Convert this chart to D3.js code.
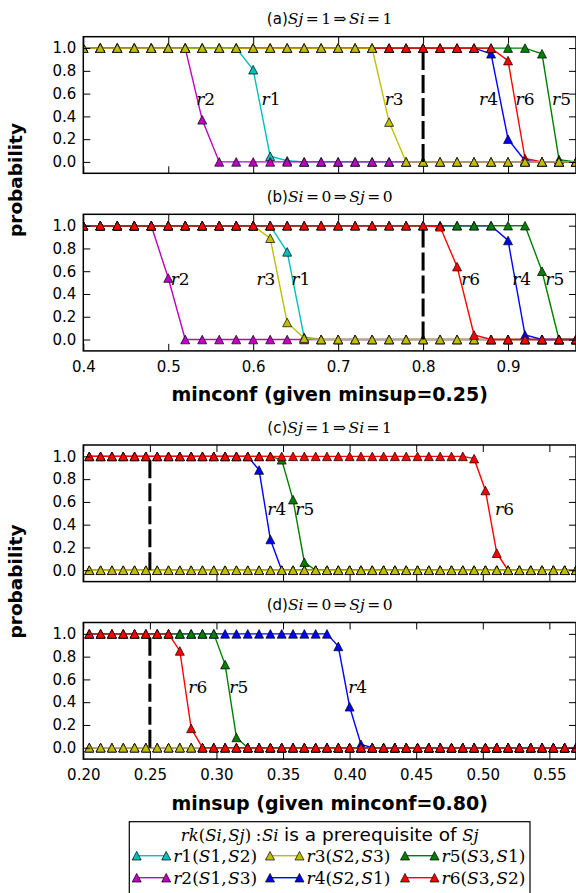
<!DOCTYPE html>
<html lang="en">
<head>
<meta charset="utf-8">
<title>Rule probability vs minconf / minsup</title>
<script src="https://d3js.org/d3.v7.min.js"></script>
<style>
  body { margin: 0; background: #fff; }
  .tick text { font-family: "DejaVu Sans", sans-serif; font-size: 15px; fill: #000; }
  .tick line { stroke: #000; stroke-width: 1; }
  .axis-label { font-family: "DejaVu Sans", sans-serif; font-size: 19px; font-weight: bold; }
</style>
</head>
<body>
<div id="vis"></div>
<script>
const width = 576, height = 893;

// ---- data ----
const confX = [0.40,0.42,0.44,0.46,0.48,0.50,0.52,0.54,0.56,0.58,0.60,0.62,0.64,0.66,0.68,
               0.70,0.72,0.74,0.76,0.78,0.80,0.82,0.84,0.86,0.88,0.90,0.92,0.94,0.96,0.98];
const supX = [0.2045,0.2130,0.2215,0.2300,0.2385,0.2470,0.2555,0.2640,0.2725,0.2810,0.2895,
              0.2980,0.3065,0.3150,0.3235,0.3320,0.3405,0.3490,0.3575,0.3660,0.3745,0.3830,
              0.3915,0.4000,0.4085,0.4170,0.4255,0.4340,0.4425,0.4510,0.4595,0.4680,0.4765,
              0.4850,0.4935,0.5020,0.5105,0.5190,0.5275,0.5360,0.5445,0.5530,0.5615,0.5700];

const confTicks = [0.4,0.5,0.6,0.7,0.8,0.9];
const supTicks = [0.20,0.25,0.30,0.35,0.40,0.45,0.50,0.55];
const probTicks = [0.0,0.2,0.4,0.6,0.8,1.0];

const ruleNames = ["r1","r2","r3","r4","r5","r6"];
const ruleLegend = ["r1(S1,S2)","r2(S1,S3)","r3(S2,S3)","r4(S2,S1)","r5(S3,S1)","r6(S3,S2)"];
const ruleColors = ["#00bfbf","#bf00bf","#bfbf00","#0000ff","#008000","#ff0000"];

// (a) Sj=1 => Si=1, vs minconf
const aR1 = [1,1,1,1,1,1,1,1,1,1,0.81,0.05,0.01,0,0,0,0,0,0,0,0,0,0,0,0,0,0,0,0,0];
const aR2 = [1,1,1,1,1,1,1,0.37,0,0,0,0,0,0,0,0,0,0,0,0,0,0,0,0,0,0,0,0,0,0];
const aR3 = [1,1,1,1,1,1,1,1,1,1,1,1,1,1,1,1,1,1,0.35,0,0,0,0,0,0,0,0,0,0,0];
const aR4 = [1,1,1,1,1,1,1,1,1,1,1,1,1,1,1,1,1,1,1,1,1,1,1,1,0.95,0.20,0.01,0,0,0];
const aR5 = [1,1,1,1,1,1,1,1,1,1,1,1,1,1,1,1,1,1,1,1,1,1,1,1,1,1,1,0.95,0.02,0];
const aR6 = [1,1,1,1,1,1,1,1,1,1,1,1,1,1,1,1,1,1,1,1,1,1,1,1,1,0.89,0.03,0,0,0];

// (b) Si=0 => Sj=0, vs minconf
const bR1 = [1,1,1,1,1,1,1,1,1,1,1,1,0.77,0.02,0,0,0,0,0,0,0,0,0,0,0,0,0,0,0,0];
const bR2 = [1,1,1,1,1,0.54,0,0,0,0,0,0,0,0,0,0,0,0,0,0,0,0,0,0,0,0,0,0,0,0];
const bR3 = [1,1,1,1,1,1,1,1,1,1,1,0.89,0.15,0.01,0,0,0,0,0,0,0,0,0,0,0,0,0,0,0,0];
const bR4 = [1,1,1,1,1,1,1,1,1,1,1,1,1,1,1,1,1,1,1,1,1,1,1,1,1,0.87,0.04,0,0,0];
const bR5 = [1,1,1,1,1,1,1,1,1,1,1,1,1,1,1,1,1,1,1,1,1,1,1,1,1,1,1,0.60,0,0];
const bR6 = [1,1,1,1,1,1,1,1,1,1,1,1,1,1,1,1,1,1,1,1,1,0.99,0.64,0.04,0,0,0,0,0,0];

// (c) Sj=1 => Si=1, vs minsup
const cR1 = [0,0,0,0,0,0,0,0,0,0,0,0,0,0,0,0,0,0,0,0,0,0,0,0,0,0,0,0,0,0,0,0,0,0,0,0,0,0,0,0,0,0,0,0];
const cR2 = [0,0,0,0,0,0,0,0,0,0,0,0,0,0,0,0,0,0,0,0,0,0,0,0,0,0,0,0,0,0,0,0,0,0,0,0,0,0,0,0,0,0,0,0];
const cR3 = [0,0,0,0,0,0,0,0,0,0,0,0,0,0,0,0,0,0,0,0,0,0,0,0,0,0,0,0,0,0,0,0,0,0,0,0,0,0,0,0,0,0,0,0];
const cR4 = [1,1,1,1,1,1,1,1,1,1,1,1,1,1,1,0.88,0.27,0,0,0,0,0,0,0,0,0,0,0,0,0,0,0,0,0,0,0,0,0,0,0,0,0,0,0];
const cR5 = [1,1,1,1,1,1,1,1,1,1,1,1,1,1,1,1,1,0.97,0.62,0.07,0,0,0,0,0,0,0,0,0,0,0,0,0,0,0,0,0,0,0,0,0,0,0,0];
const cR6 = [1,1,1,1,1,1,1,1,1,1,1,1,1,1,1,1,1,1,1,1,1,1,1,1,1,1,1,1,1,1,1,1,1,1,0.98,0.70,0.15,0,0,0,0,0,0,0];

// (d) Si=0 => Sj=0, vs minsup
const dR1 = [0,0,0,0,0,0,0,0,0,0,0,0,0,0,0,0,0,0,0,0,0,0,0,0,0,0,0,0,0,0,0,0,0,0,0,0,0,0,0,0,0,0,0,0];
const dR2 = [0,0,0,0,0,0,0,0,0,0,0,0,0,0,0,0,0,0,0,0,0,0,0,0,0,0,0,0,0,0,0,0,0,0,0,0,0,0,0,0,0,0,0,0];
const dR3 = [0,0,0,0,0,0,0,0,0,0,0,0,0,0,0,0,0,0,0,0,0,0,0,0,0,0,0,0,0,0,0,0,0,0,0,0,0,0,0,0,0,0,0,0];
const dR4 = [1,1,1,1,1,1,1,1,1,1,1,1,1,1,1,1,1,1,1,1,1,1,0.89,0.36,0.03,0,0,0,0,0,0,0,0,0,0,0,0,0,0,0,0,0,0,0];
const dR5 = [1,1,1,1,1,1,1,1,1,1,1,1,0.73,0.09,0,0,0,0,0,0,0,0,0,0,0,0,0,0,0,0,0,0,0,0,0,0,0,0,0,0,0,0,0,0];
const dR6 = [1,1,1,1,1,1,1,1,0.85,0.17,0,0,0,0,0,0,0,0,0,0,0,0,0,0,0,0,0,0,0,0,0,0,0,0,0,0,0,0,0,0,0,0,0,0];

// ---- layout ----
const left = 83.3, right = 576, panelH = 136.6;
const panels = [
  {tag:"(a)", cond:"Sj=1⇒Si=1", top:36.7, xs:confX, ys:[aR1,aR2,aR3,aR4,aR5,aR6], order:[3,4,5,0,1,2],
   dom:[0.4,0.98], ticks:confTicks, fmt:d3.format(".1f"), labels:false, cut:0.8,
   names:[[0.621,0.55],[0.544,0.55],[0.766,0.55],[0.877,0.55],[0.963,0.55],[0.920,0.55]]},
  {tag:"(b)", cond:"Si=0⇒Sj=0", top:214.3, xs:confX, ys:[bR1,bR2,bR3,bR4,bR5,bR6], order:[0,1,2,3,4,5],
   dom:[0.4,0.98], ticks:confTicks, fmt:d3.format(".1f"), labels:true, cut:0.8,
   names:[[0.656,0.533],[0.514,0.533],[0.615,0.533],[0.916,0.533],[0.955,0.533],[0.856,0.533]]},
  {tag:"(c)", cond:"Sj=1⇒Si=1", top:445, xs:supX, ys:[cR1,cR2,cR3,cR4,cR5,cR6], order:[3,4,5,0,1,2],
   dom:[0.2,0.57], ticks:supTicks, fmt:d3.format(".2f"), labels:false, cut:0.25,
   names:[null,null,null,[0.3453,0.535],[0.3663,0.535],[0.5163,0.535]]},
  {tag:"(d)", cond:"Si=0⇒Sj=0", top:622.5, xs:supX, ys:[dR1,dR2,dR3,dR4,dR5,dR6], order:[0,1,2,3,4,5],
   dom:[0.2,0.57], ticks:supTicks, fmt:d3.format(".2f"), labels:true, cut:0.25,
   names:[null,null,null,[0.406,0.531],[0.3168,0.531],[0.286,0.531]]}
];

const mw = 9, mh = 8.6;
const tri = `M0,${-mh/2}L${mw/2},${mh/2}L${-mw/2},${mh/2}Z`;

// math-like text: letters italic, digits upright, relations padded
function mathText(sel, str, size, lead) {
  let pad = lead || 0;
  for (const ch of str) {
    let before = 0, after = 0;
    if (ch === "=" || ch === "⇒") { before = after = size * 0.16; }
    if (ch === ":") { before = size * 0.28; after = size * 0.04; }
    if (ch === ",") { after = size * 0.08; }
    const t = sel.append("tspan")
      .attr("font-family", "DejaVu Serif")
      .attr("font-size", size)
      .text(ch);
    if (/[A-Za-z]/.test(ch)) t.attr("font-style", "italic");
    pad += before;
    if (pad) t.attr("dx", pad);
    pad = after;
  }
}

const svg = d3.select("#vis").append("svg")
  .attr("width", width).attr("height", height)
  .style("display", "block");

panels.forEach((p, pi) => {
  const x = d3.scaleLinear().domain(p.dom).range([left, right]);
  const y = d3.scaleLinear().domain([-0.1, 1.1]).range([p.top + panelH, p.top]);
  const g = svg.append("g");

  g.append("clipPath").attr("id", "clip" + pi)
    .append("rect").attr("x", left).attr("y", p.top)
    .attr("width", right - left).attr("height", panelH);

  const plot = g.append("g").attr("clip-path", `url(#clip${pi})`);
  const line = d3.line().x(d => x(d[0])).y(d => y(d[1]));

  p.order.forEach(si => {
    const pts = p.xs.map((v, i) => [v, p.ys[si][i]]);
    plot.append("path").datum(pts)
      .attr("d", line).attr("fill", "none")
      .attr("stroke", ruleColors[si]).attr("stroke-width", 1.4);
    plot.selectAll(null).data(pts).join("path")
      .attr("d", tri)
      .attr("transform", d => `translate(${x(d[0])},${y(d[1])})`)
      .attr("fill", ruleColors[si]).attr("stroke", "#000").attr("stroke-width", 0.7);
  });

  // chosen threshold
  plot.append("line")
    .attr("x1", x(p.cut)).attr("x2", x(p.cut))
    .attr("y1", y(0)).attr("y2", y(1))
    .attr("stroke", "#000").attr("stroke-width", 3)
    .attr("stroke-dasharray", "18,5");

  // rule names
  p.names.forEach((pos, si) => {
    if (!pos) return;
    const t = g.append("text")
      .attr("x", x(pos[0])).attr("y", y(pos[1]))
      .attr("text-anchor", "middle").attr("dominant-baseline", "central");
    mathText(t, ruleNames[si], 17);
  });

  // axes, ticks inward on all sides
  g.append("g").attr("transform", `translate(${left},0)`)
    .call(d3.axisLeft(y).tickValues(probTicks).tickFormat(d3.format(".1f"))
      .tickSize(-7).tickPadding(7));
  g.append("g").attr("transform", `translate(${right},0)`)
    .call(d3.axisRight(y).tickValues(probTicks).tickFormat("").tickSize(-7));
  g.append("g").attr("transform", `translate(0,${p.top})`)
    .call(d3.axisTop(x).tickValues(p.ticks).tickFormat("").tickSize(-7));
  g.append("g").attr("transform", `translate(0,${p.top + panelH})`)
    .call(d3.axisBottom(x).tickValues(p.ticks)
      .tickFormat(p.labels ? p.fmt : "").tickSize(-7).tickPadding(10.5));
  g.selectAll(".domain").remove();
  g.selectAll(".tick text").attr("font-size", null).attr("font-family", null);

  g.append("rect")
    .attr("x", left).attr("y", p.top)
    .attr("width", right - left).attr("height", panelH)
    .attr("fill", "none").attr("stroke", "#000").attr("stroke-width", 1.5);

  // title
  const tt = g.append("text")
    .attr("x", (left + right) / 2).attr("y", p.top - 12.5)
    .attr("text-anchor", "middle");
  tt.append("tspan").attr("font-family", "DejaVu Sans").attr("font-size", 15).text(p.tag);
  mathText(tt, p.cond, 15.5);
});

// axis labels
svg.append("text").attr("class", "axis-label")
  .attr("x", (left + right) / 2).attr("y", 401).attr("text-anchor", "middle")
  .text("minconf (given minsup=0.25)");
svg.append("text").attr("class", "axis-label")
  .attr("x", (left + right) / 2).attr("y", 810).attr("text-anchor", "middle")
  .text("minsup (given minconf=0.80)");
[180, 581.5].forEach(cy => {
  svg.append("text").attr("class", "axis-label")
    .attr("transform", `translate(21.5,${cy}) rotate(-90)`)
    .attr("text-anchor", "middle").style("font-size", "18.5px")
    .text("probability");
});

// legend
const lg = svg.append("g");
lg.append("rect")
  .attr("x", 129.3).attr("y", 821.7).attr("width", 400.7).attr("height", 80)
  .attr("fill", "#fff").attr("stroke", "#000").attr("stroke-width", 1.2);
const lt = lg.append("text").attr("x", 329.7).attr("y", 841).attr("text-anchor", "middle");
mathText(lt, "rk(Si,Sj):Si", 16.5);
lt.append("tspan").attr("font-family", "DejaVu Sans").attr("font-size", 18.5).attr("dx", 5.5)
  .text("is a prerequisite of");
mathText(lt, "Sj", 16.5, 5.5);

const colX = [136.7, 270, 405];
const rowY = [855.7, 877.7];
ruleLegend.forEach((lab, i) => {
  const cx = colX[Math.floor(i / 2)], cy = rowY[i % 2];
  lg.append("line").attr("x1", cx).attr("x2", cx + 29.5).attr("y1", cy).attr("y2", cy)
    .attr("stroke", ruleColors[i]).attr("stroke-width", 1.4);
  [cx, cx + 29.5].forEach(mx => {
    lg.append("path").attr("d", tri).attr("transform", `translate(${mx},${cy})`)
      .attr("fill", ruleColors[i]).attr("stroke", "#000").attr("stroke-width", 0.7);
  });
  const t = lg.append("text").attr("x", cx + 36.5).attr("y", cy)
    .attr("dominant-baseline", "central");
  mathText(t, lab, 17);
});
</script>
</body>
</html>
